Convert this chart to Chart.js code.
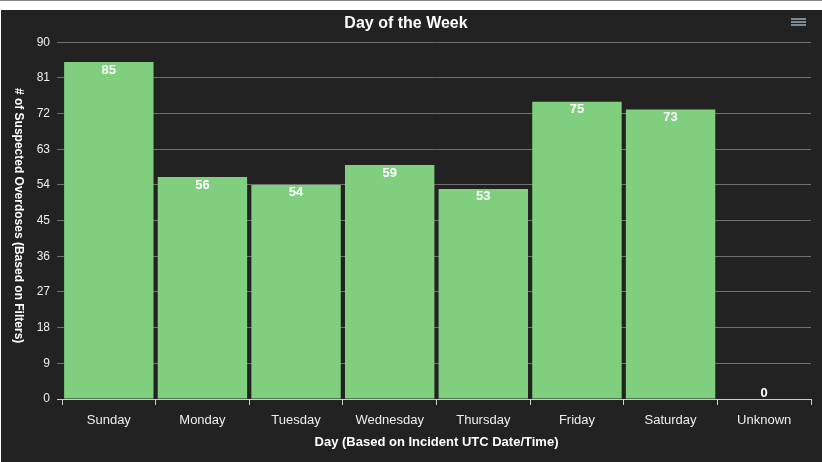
<!DOCTYPE html>
<html>
<head>
<meta charset="utf-8">
<script src="https://cdn.jsdelivr.net/npm/chart.js@4"></script>
<style>
  html, body { margin: 0; padding: 0; background: #fff; }
  body { width: 822px; height: 462px; border-top: 1px solid #888; box-sizing: border-box; position: relative; overflow: hidden; }
  .wrap { position: absolute; left: 1px; top: 9px; width: 821px; height: 453px; background: #222222; }
  .menu { position: absolute; left: 791px; top: 17px; width: 15px; }
  .menu span { display: block; height: 2px; background: #7d8a96; margin-bottom: 1px; }
</style>
</head>
<body>
<div class="wrap"><canvas id="chart" width="821" height="453"></canvas></div>
<div class="menu"><span></span><span></span><span></span></div>
<script>
const days = ['Sunday', 'Monday', 'Tuesday', 'Wednesday', 'Thursday', 'Friday', 'Saturday', 'Unknown'];
const overdoses = [85, 56, 54, 59, 53, 75, 73, 0];
const yTicks = [0, 9, 18, 27, 36, 45, 54, 63, 72, 81, 90];
const yTitle = '# of Suspected Overdoses (Based on Filters)';

const fontFamily = '"Liberation Sans", Arial, sans-serif';

// value labels on the bars + y title reading top to bottom
const extras = {
    id: 'extras',
    afterDatasetsDraw(chart) {
        const ctx = chart.ctx;
        const meta = chart.getDatasetMeta(0);
        ctx.save();
        ctx.font = 'bold 13px ' + fontFamily;
        ctx.fillStyle = '#ffffff';
        ctx.textAlign = 'center';
        ctx.textBaseline = 'middle';
        meta.data.forEach((bar, i) => {
            const v = overdoses[i];
            const y = v > 0 ? bar.y + 8 : bar.y - 6;
            ctx.fillText(String(v), bar.x, y);
        });
        ctx.restore();
    },
    afterDraw(chart) {
        const ctx = chart.ctx;
        const area = chart.chartArea;
        ctx.save();
        ctx.translate(17, (area.top + area.bottom) / 2 - 5);
        ctx.rotate(Math.PI / 2);
        ctx.font = 'bold 12px ' + fontFamily;
        ctx.fillStyle = '#ffffff';
        ctx.textAlign = 'center';
        ctx.textBaseline = 'middle';
        ctx.fillText(yTitle, 0, 0);
        ctx.restore();
    }
};

new Chart(document.getElementById('chart'), {
    type: 'bar',
    data: {
        labels: days,
        datasets: [{
            label: '# of Suspected Overdoses',
            data: overdoses,
            backgroundColor: '#7fcf7f',
            borderWidth: 0,
            barPercentage: 0.955,
            categoryPercentage: 1
        }]
    },
    options: {
        responsive: false,
        animation: false,
        layout: { padding: { left: 0, right: 11, top: 0, bottom: 0 } },
        plugins: {
            legend: { display: false },
            tooltip: { enabled: false },
            title: {
                display: true,
                text: 'Day of the Week',
                color: '#ffffff',
                font: { family: fontFamily, size: 16, weight: 'bold' },
                padding: { top: 4, bottom: 9 }
            }
        },
        scales: {
            x: {
                z: 1,
                grid: {
                    display: true,
                    drawOnChartArea: false,
                    color: '#cccccc',
                    tickLength: 6,
                    offset: true
                },
                border: { color: '#cccccc' },
                ticks: {
                    color: '#eeeeee',
                    font: { family: fontFamily, size: 13 },
                    padding: 8
                },
                title: {
                    display: true,
                    text: 'Day (Based on Incident UTC Date/Time)',
                    color: '#ffffff',
                    font: { family: fontFamily, size: 13, weight: 'bold' },
                    padding: { top: 4, bottom: 13 }
                },
                afterFit(scale) { scale.height = 64; }
            },
            y: {
                z: 1,
                min: 0,
                max: 90,
                afterBuildTicks(scale) {
                    scale.ticks = yTicks.map(v => ({ value: v }));
                },
                grid: {
                    color: (c) => c.tick && c.tick.value === 0 ? '#cccccc' : '#707070',
                    tickLength: 5
                },
                border: { display: false },
                ticks: {
                    color: '#eeeeee',
                    font: { family: fontFamily, size: 12 },
                    padding: 7
                },
                afterFit(scale) { scale.width = 61; }
            }
        }
    },
    plugins: [extras]
});
</script>
</body>
</html>
